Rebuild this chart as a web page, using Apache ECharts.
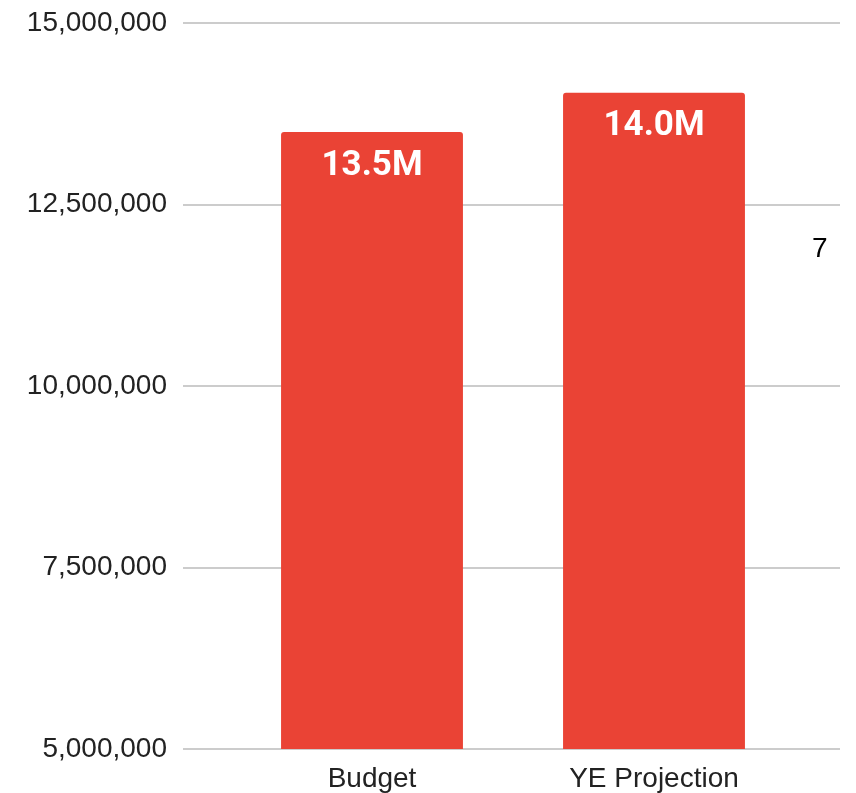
<!DOCTYPE html>
<html>
<head>
<meta charset="utf-8">
<script src="https://cdn.jsdelivr.net/npm/echarts@6/dist/echarts.min.js"></script>
<style>
html,body{margin:0;padding:0;background:#fff;}
#chart{width:856px;height:793px;}
</style>
</head>
<body>
<div id="chart"></div>
<script>
var categories = ['Budget', 'YE Projection'];
var values = [13500000, 14040000];
var barLabels = ['13.5M', '14.0M'];
var yTicks = { min: 5000000, max: 15000000, interval: 2500000 };
var sideNote = '7';

function fmt(v) {
  return String(v).replace(/\B(?=(\d{3})+(?!\d))/g, ',');
}

var chart = echarts.init(document.getElementById('chart'), null, { renderer: 'canvas' });
chart.setOption({
  animation: false,
  backgroundColor: '#ffffff',
  grid: [
    { left: 183, right: 16, top: 23, bottom: 44 },
    { left: 231, right: 61, top: 23, bottom: 44 }
  ],
  xAxis: [
    { gridIndex: 0, type: 'value', show: false },
    {
      gridIndex: 1, type: 'category', data: categories,
      axisLine: { show: false }, axisTick: { show: false },
      axisLabel: { color: '#222222', fontFamily: 'Liberation Sans', fontSize: 28, margin: 16 }
    }
  ],
  yAxis: [
    {
      gridIndex: 0, type: 'value', min: yTicks.min, max: yTicks.max, interval: yTicks.interval,
      axisLine: { show: false }, axisTick: { show: false },
      splitLine: { show: true, lineStyle: { color: '#cccccc', width: 2 } },
      axisLabel: { color: '#222222', fontFamily: 'Liberation Sans', fontSize: 28, margin: 16, padding: [4, 0, 0, 0], formatter: fmt }
    },
    {
      gridIndex: 1, type: 'value', min: yTicks.min, max: yTicks.max, interval: yTicks.interval,
      show: false, splitLine: { show: false }
    }
  ],
  series: [{
    type: 'bar',
    xAxisIndex: 1, yAxisIndex: 1,
    data: values,
    barWidth: '64.5%',
    itemStyle: { color: '#ea4335', borderRadius: [3, 3, 0, 0] },
    label: {
      show: true,
      position: ['50%', 34],
      align: 'center',
      verticalAlign: 'middle',
      color: '#ffffff',
      fontFamily: 'Roboto',
      fontWeight: 'bold',
      fontSize: 35,
      formatter: function (p) { return barLabels[p.dataIndex]; }
    }
  }],
  graphic: [{
    type: 'text',
    left: 812, top: 235,
    style: { text: sideNote, fill: '#000000', font: '28px "Liberation Sans"' }
  }]
});
</script>
</body>
</html>
